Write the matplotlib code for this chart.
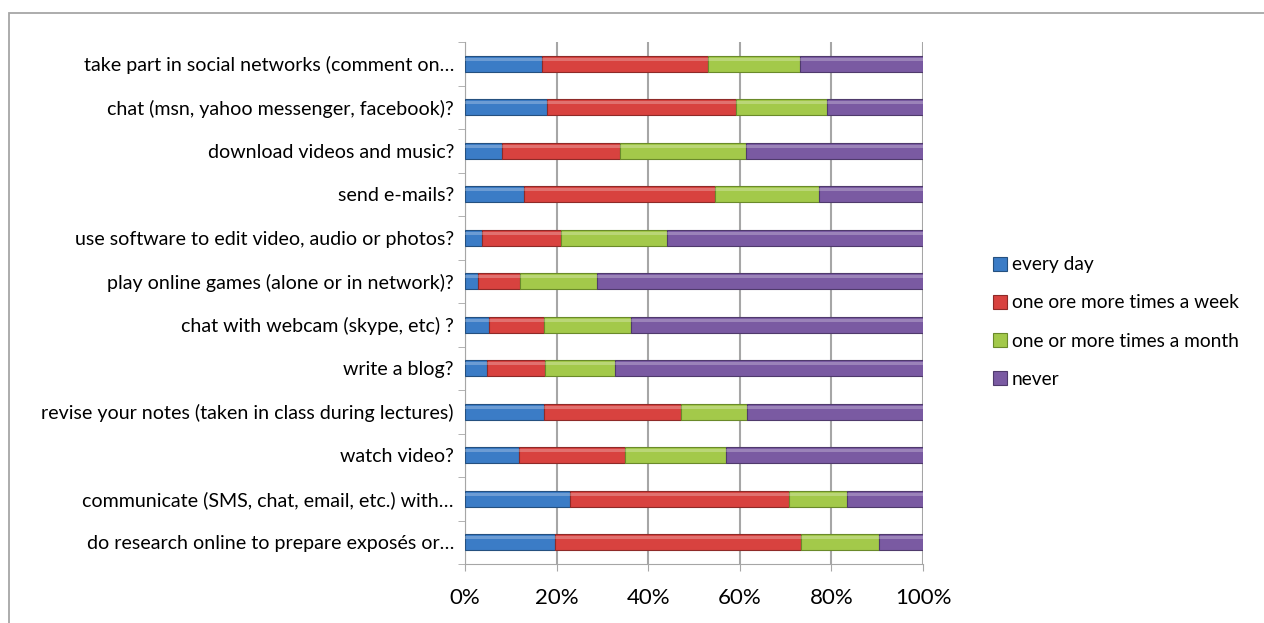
import matplotlib.pyplot as plt
import numpy as np
from matplotlib.patches import Rectangle

plt.rcParams['font.family'] = ['Lato', 'DejaVu Sans']

# categories listed bottom to top
questions = [
    "do research online to prepare exposés or…",
    "communicate (SMS, chat, email, etc.) with…",
    "watch video?",
    "revise your notes (taken in class during lectures)",
    "write a blog?",
    "chat with webcam (skype, etc) ?",
    "play online games (alone or in network)?",
    "use software to edit video, audio or photos?",
    "send e-mails?",
    "download videos and music?",
    "chat (msn, yahoo messenger, facebook)?",
    "take part in social networks (comment on…",
]
every_day = [19.6, 22.9, 11.7, 17.3, 4.7, 5.3, 2.8, 3.8, 12.8, 8.0, 17.8, 16.8]
weekly = [53.8, 47.8, 23.2, 29.9, 12.7, 12.0, 9.2, 17.1, 41.8, 25.9, 41.3, 36.2]
monthly = [16.9, 12.6, 22.1, 14.4, 15.4, 19.0, 16.9, 23.2, 22.7, 27.5, 20.0, 20.1]
never = [9.7, 16.7, 43.0, 38.4, 67.2, 63.7, 71.1, 55.9, 22.7, 38.6, 20.9, 26.9]

series_names = ["every day", "one ore more times a week",
                "one or more times a month", "never"]
colors = ["#3b7cc6", "#d8423f", "#a3c94a", "#7a5aa2"]
edges = ["#25507f", "#8e2a28", "#6a8a2a", "#4f3a6c"]

fig = plt.figure(figsize=(12.64, 6.23), dpi=100)
# outer chart frame (right and bottom edges fall outside the image)
fig.patches.append(Rectangle((9 / 1264, -0.05), 1.0, 1 - 12.5 / 623 + 0.05,
                             transform=fig.transFigure, fill=False,
                             edgecolor="#a6a6a6", linewidth=1.3))
ax = fig.add_axes([465 / 1264, 1 - 564 / 623, 458 / 1264, 522 / 623])

y = np.arange(len(questions))
left = np.zeros(len(questions))
for vals, name, c, ec in zip([every_day, weekly, monthly, never], series_names, colors, edges):
    vals = np.array(vals)
    ax.barh(y, vals, left=left, height=0.37, color=c, edgecolor=ec,
            linewidth=0.8, label=name, zorder=3)
    # light bevel highlight on top part of each bar
    ax.barh(y + 0.1, vals, left=left, height=0.07, color="white",
            alpha=0.25, linewidth=0, zorder=4)
    left += vals

ax.set_xlim(0, 100)
ax.set_ylim(-0.5, len(questions) - 0.5)
ax.set_xticks(np.arange(0, 101, 20))
ax.set_xticklabels([f"{v}%" for v in range(0, 101, 20)], fontsize=16)
ax.set_yticks(y)
ax.set_yticklabels(questions, fontsize=14.1)
ax.set_yticks(np.arange(-0.5, len(questions)), minor=True)
ax.tick_params(axis="y", which="major", length=0, pad=8)
ax.tick_params(axis="y", which="minor", length=5, color="#a6a6a6")
ax.tick_params(axis="x", length=5, color="#a6a6a6", pad=12)
ax.grid(axis="x", color="#a6a6a6", linewidth=1.5, zorder=0)
for s in ["top", "right"]:
    ax.spines[s].set_visible(False)
ax.spines["left"].set_color("#a6a6a6")
ax.spines["bottom"].set_color("#a6a6a6")

ax.legend(loc="center left", bbox_to_anchor=(993 / 1264, 1 - 322 / 623),
          bbox_transform=fig.transFigure, frameon=False, fontsize=13.8,
          borderpad=0, borderaxespad=0,
          handlelength=0.72, handleheight=0.72, handletextpad=0.25,
          labelspacing=1.1)

fig.savefig("out.png", dpi=100)
